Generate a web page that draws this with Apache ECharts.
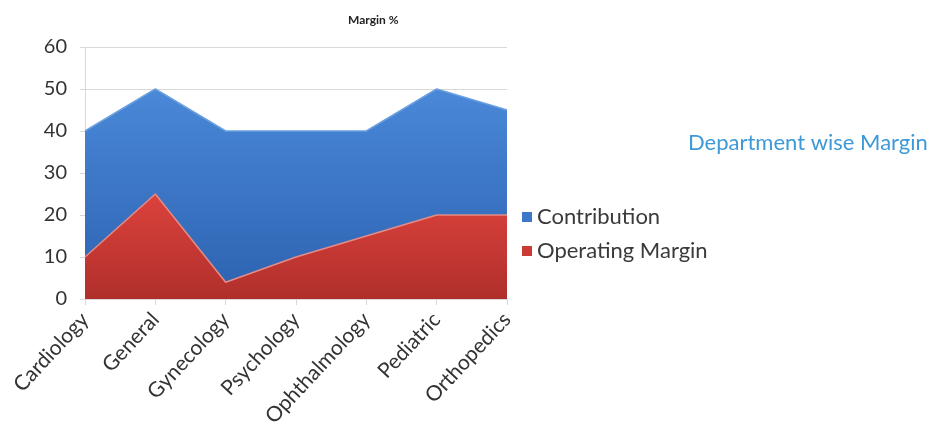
<!DOCTYPE html>
<html>
<head>
<meta charset="utf-8">
<script src="https://cdn.jsdelivr.net/npm/echarts@6/dist/echarts.min.js"></script>
<style>html,body{margin:0;padding:0;background:#fff}#c{width:930px;height:436px}</style>
</head>
<body>
<div id="c"></div>
<script>
var categories = ['Cardiology','General','Gynecology','Psychology','Ophthalmology','Pediatric','Orthopedics'];
var contribution = [40, 50, 40, 40, 40, 50, 45];
var operatingMargin = [10, 25, 4, 10, 15, 20, 20];
var yTicks = [0, 10, 20, 30, 40, 50, 60];

var chart = echarts.init(document.getElementById('c'));
var font = 'Lato, "Open Sans", sans-serif';
chart.setOption({
  animation: false,
  textStyle: { fontFamily: font },
  title: [
    { text: 'Margin %', left: 343, top: 9, textStyle: { fontSize: 12, fontWeight: 'bold', color: '#222', fontFamily: font } },
    { text: 'Department wise Margin', left: 683, top: 127, textStyle: { fontSize: 22, fontWeight: 'normal', color: '#3d9ad6', fontFamily: font } }
  ],
  legend: {
    orient: 'vertical', left: 517, top: 201, itemWidth: 10, itemHeight: 10, itemGap: 12,
    icon: 'rect',
    data: [
      { name: 'Contribution', itemStyle: { color: '#3b78c9' } },
      { name: 'Operating Margin', itemStyle: { color: '#cc3a35' } }
    ],
    textStyle: { fontSize: 22, color: '#3a3a3a', fontFamily: font }
  },
  grid: { left: 85, right: 423, top: 47, bottom: 137, containLabel: false },
  xAxis: {
    type: 'category', data: categories, boundaryGap: false,
    axisLine: { show: true, lineStyle: { color: '#d8d8d8' } },
    axisTick: { show: true, alignWithLabel: true, length: 6, lineStyle: { color: '#d8d8d8' } },
    axisLabel: { rotate: 47, fontSize: 21, color: '#333', margin: 17, fontFamily: font, interval: 0 },
    splitLine: { show: false }
  },
  yAxis: {
    type: 'value', min: yTicks[0], max: yTicks[yTicks.length - 1], interval: 10,
    axisLine: { show: true, lineStyle: { color: '#d8d8d8' } },
    axisTick: { show: true, length: 5, lineStyle: { color: '#d8d8d8' } },
    axisLabel: { fontSize: 20, color: '#333', margin: 18, fontFamily: font },
    splitLine: { show: true, lineStyle: { color: '#d9d9d9' } }
  },
  series: [
    {
      name: 'Contribution', type: 'line', data: contribution, symbol: 'none',
      lineStyle: { width: 1.5, color: '#6a9fe0' },
      itemStyle: { color: '#3b78c9' },
      areaStyle: { opacity: 1, color: new echarts.graphic.LinearGradient(0, 0, 0, 1, [
        { offset: 0, color: '#4a88d8' }, { offset: 1, color: '#2c62b0' }]) },
      z: 1
    },
    {
      name: 'Operating Margin', type: 'line', data: operatingMargin, symbol: 'none',
      lineStyle: { width: 1.5, color: '#e58c88' },
      itemStyle: { color: '#cc3a35' },
      areaStyle: { opacity: 1, color: new echarts.graphic.LinearGradient(0, 0, 0, 1, [
        { offset: 0, color: '#dc423c' }, { offset: 1, color: '#b02f2b' }]) },
      z: 2
    }
  ]
});
</script>
</body>
</html>
